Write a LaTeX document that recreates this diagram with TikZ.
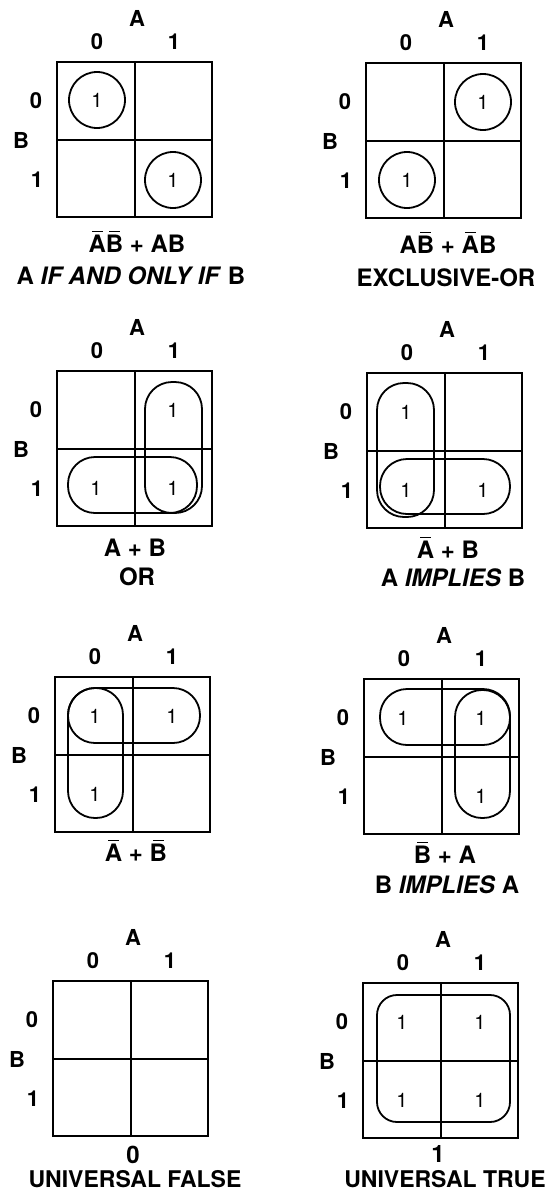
\documentclass[tikz,border=0pt]{standalone}
\usepackage{fontspec}
\setmainfont{TeX Gyre Heros}
\usetikzlibrary{positioning}
\newcommand{\ovl}[1]{\ooalign{#1\cr\hidewidth\rule[0.86em]{0.45em}{1.4pt}\hidewidth\cr}}

\begin{document}
\begin{tikzpicture}[x=1pt,y=-1pt,every node/.style={inner sep=0pt,font=\fontsize{22}{24}\selectfont\bfseries},
  boxline/.style={line width=2.8pt},cellline/.style={line width=2.2pt},
  lasso/.style={draw,line width=1.8pt,rounded corners=27pt},
  ring/.style={draw,circle,line width=1.8pt,minimum size=56pt,font=\fontsize{20}{20}\selectfont},
  one/.style={font=\fontsize{20}{20}\selectfont},
  legend/.style={font=\fontsize{24}{26}\selectfont\bfseries}]
\useasboundingbox (0,0) rectangle (555,1194);
% the eight maps with their axis labels
\foreach \m/\x/\y in {ma/57/62,mb/366/63,mc/57/371,md/367/373,me/55/677,mf/364/679,mg/53/981,mh/363/983}{
  \begin{scope}[shift={(\x,\y)}]
  \draw[cellline] (78,0)--(78,155) (0,78)--(155,78);
  \draw[boxline] (0,0) rectangle (155,155);
  \node (\m-A) at (80,-44) {A};
  \node (\m-a0) at (40,-20) {0};
  \node (\m-a1) at (117,-20) {1};
  \node (\m-b0) at (-21,39) {0};
  \node (\m-B) at (-36,78) {B};
  \node (\m-b1) at (-20,118) {1};
  \end{scope}}
% A if and only if B
\begin{scope}[shift={(57,62)}]
\node[ring] (ma-00) at (40,38) {1};
\node[ring] (ma-11) at (116,118) {1};
\node[legend] (ma-f) at (80,182) {\ovl{A}\ovl{B} + AB};
\node[legend] (ma-n) at (74,214) {A \textit{IF AND ONLY IF} B};
\end{scope}
% exclusive-or
\begin{scope}[shift={(366,63)}]
\node[ring] (mb-10) at (117,39) {1};
\node[ring] (mb-01) at (41,117) {1};
\node[legend] (mb-f) at (82,182) {A\ovl{B} + \ovl{A}B};
\node[legend] (mb-n) at (80,215) {EXCLUSIVE-OR};
\end{scope}
% or
\begin{scope}[shift={(57,371)}]
\draw[lasso] (88,11) rectangle (145,142);
\draw[lasso] (11,86) rectangle (140,142);
\node[one] (mc-10) at (116,39) {1};
\node[one] (mc-01) at (39,117) {1};
\node[one] (mc-11) at (116,117) {1};
\node[legend] (mc-f) at (78,177) {A + B};
\node[legend] (mc-n) at (80,206) {OR};
\end{scope}
% A implies B
\begin{scope}[shift={(367,373)}]
\draw[lasso] (10,10) rectangle (67,144);
\draw[lasso] (13,86) rectangle (143,141);
\node[one] (md-00) at (39,39) {1};
\node[one] (md-01) at (39,117) {1};
\node[one] (md-11) at (116,117) {1};
\node[legend] (md-f) at (81,177) {\ovl{A} + B};
\node[legend] (md-n) at (86,205) {A \textit{IMPLIES} B};
\end{scope}
% not A or not B
\begin{scope}[shift={(55,677)}]
\draw[lasso] (13,11) rectangle (145,66);
\draw[lasso] (13,11) rectangle (68,141);
\node[one] (me-00) at (40,39) {1};
\node[one] (me-10) at (117,39) {1};
\node[one] (me-01) at (40,117) {1};
\node[legend] (me-f) at (81,176) {\ovl{A} + \ovl{B}};
\end{scope}
% B implies A
\begin{scope}[shift={(364,679)}]
\draw[lasso] (16,10) rectangle (146,66);
\draw[lasso] (91,11) rectangle (146,139);
\node[one] (mf-00) at (39,39) {1};
\node[one] (mf-10) at (117,39) {1};
\node[one] (mf-11) at (117,117) {1};
\node[legend] (mf-f) at (81,176) {\ovl{B} + A};
\node[legend] (mf-n) at (83,206) {B \textit{IMPLIES} A};
\end{scope}
% universal false
\begin{scope}[shift={(53,981)}]
\node[legend] (mg-f) at (80,174) {0};
\node[legend,font=\fontsize{23}{25}\selectfont\bfseries] (mg-n) at (82,198) {UNIVERSAL FALSE};
\end{scope}
% universal true
\begin{scope}[shift={(363,983)}]
\draw[lasso,rounded corners=20pt] (14,12) rectangle (147,139);
\node[one] (mh-00) at (39,39) {1};
\node[one] (mh-10) at (117,39) {1};
\node[one] (mh-01) at (39,117) {1};
\node[one] (mh-11) at (117,117) {1};
\node[legend] (mh-f) at (75,171) {1};
\node[legend,font=\fontsize{23}{25}\selectfont\bfseries] (mh-n) at (82,196) {UNIVERSAL TRUE};
\end{scope}
\end{tikzpicture}
\end{document}
